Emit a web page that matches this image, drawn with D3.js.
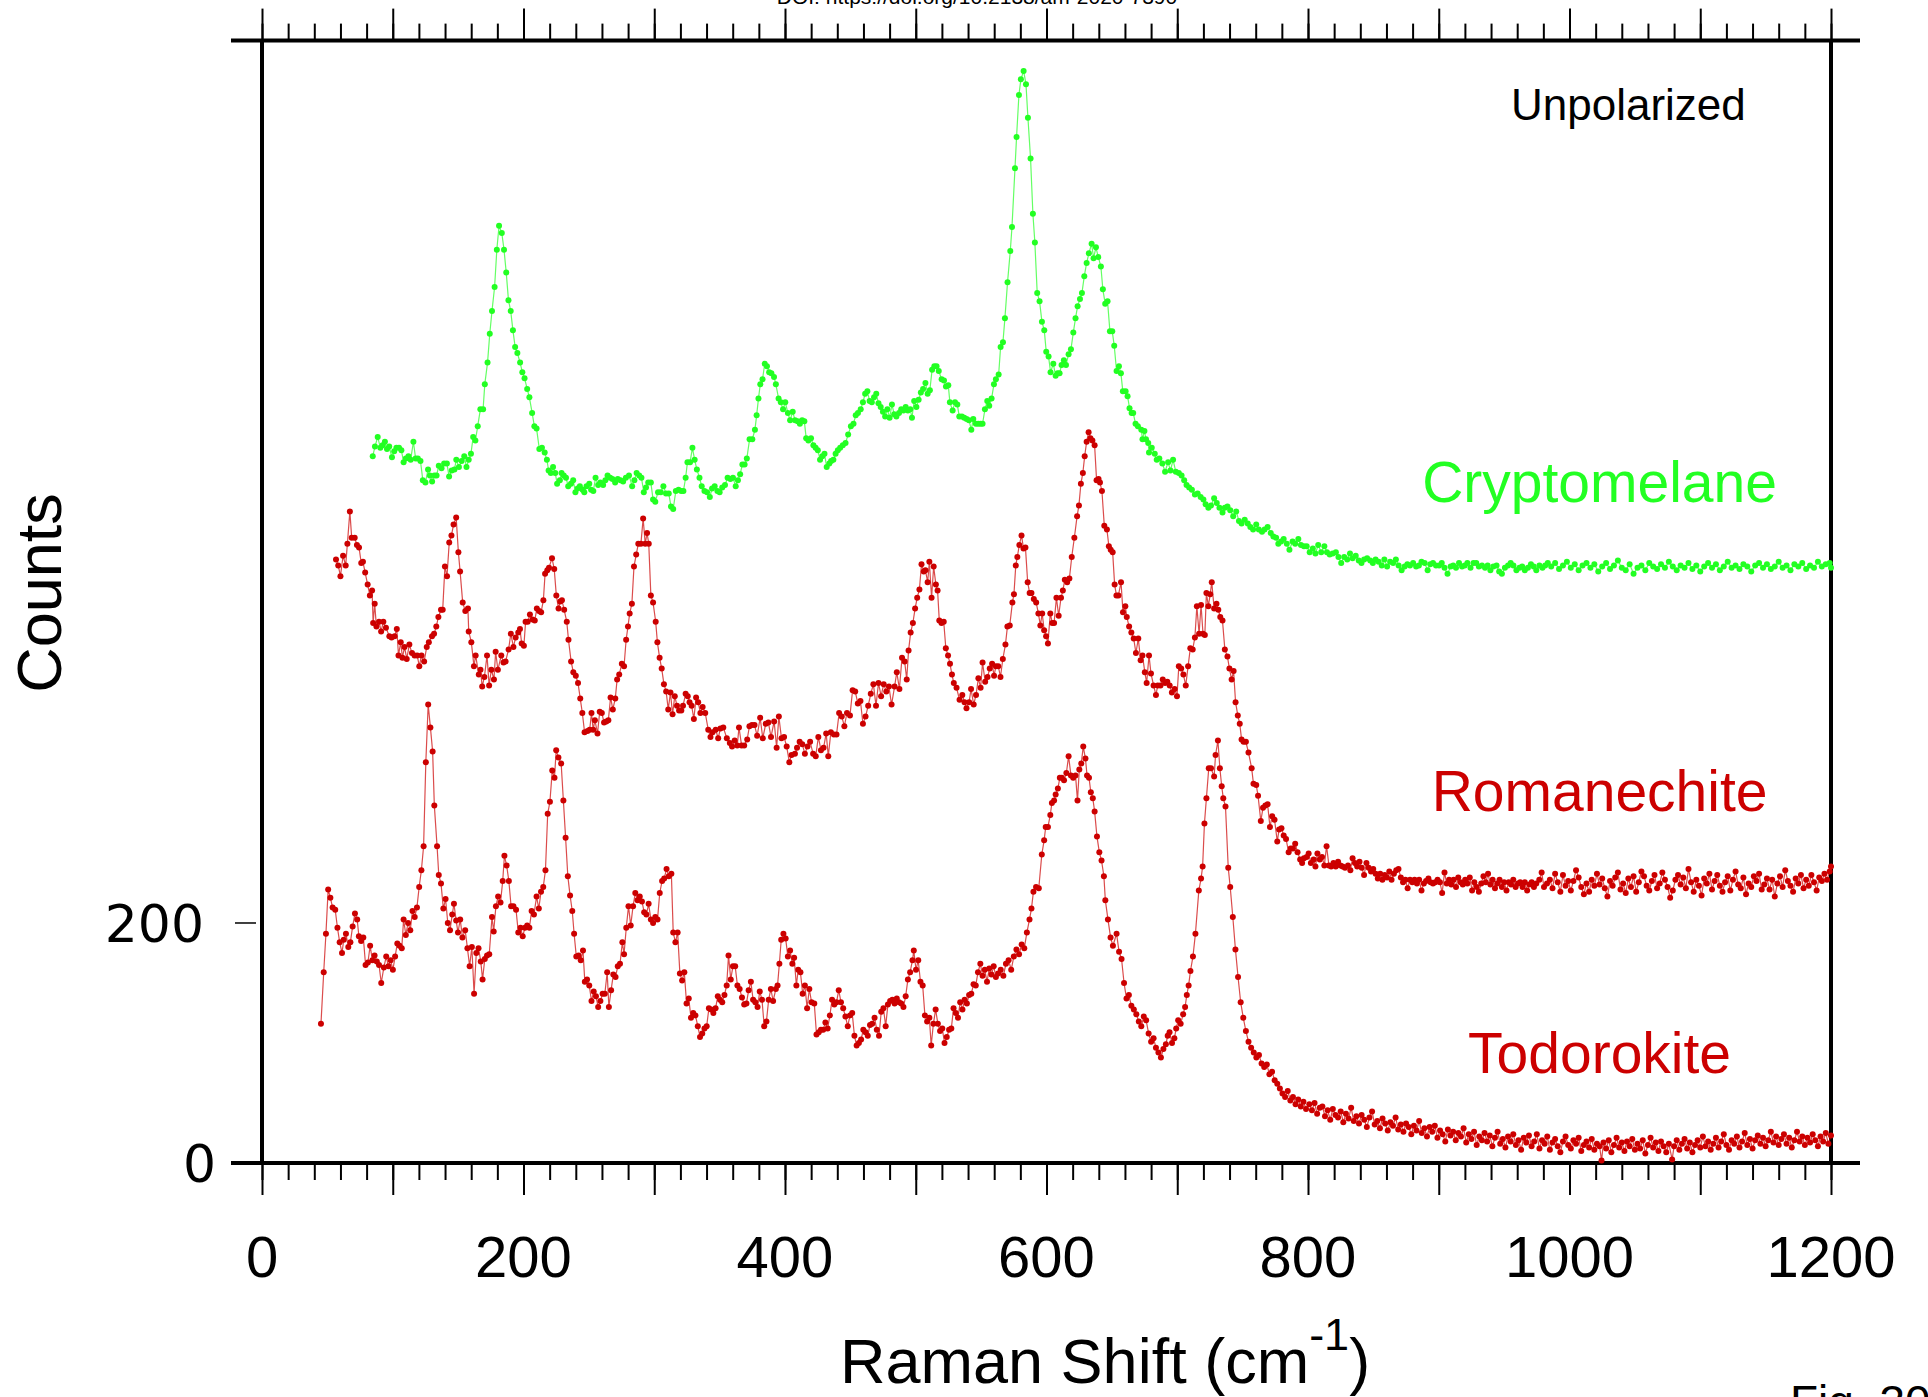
<!DOCTYPE html>
<html>
<head>
<meta charset="utf-8">
<script src="https://cdn.jsdelivr.net/npm/d3@7"></script>
<style>
  body { margin: 0; background: #fff; }
  .tick-lab { font-family: "Liberation Sans", Arial, sans-serif; font-size: 58px; fill: #000; }
  .ytick-lab { font-family: "DejaVu Sans", sans-serif; font-size: 52px; fill: #000; }
  .axis-title { font-family: "Liberation Sans", Arial, sans-serif; font-size: 63px; fill: #000; }
</style>
</head>
<body>
<div id="chart"></div>
<script>
//--------DATA (Raman shift cm-1, counts as plotted)-------------

var cryptomelane = [[84.7,589],[86.4,597],[88.5,605],[90.5,596],[92.2,598],[94.0,601],[95.6,595],[97.3,597],[99.4,588],[101.1,593],[102.8,596],[104.8,596],[106.6,594],[108.3,584],[110.0,587],[112.0,589],[113.7,586],[115.8,601],[117.5,587],[119.2,587],[121.2,585],[123.0,569],[125.0,567],[127.0,578],[128.4,573],[130.1,568],[131.8,573],[133.5,573],[135.2,581],[137.3,579],[139.3,583],[141.4,583],[143.1,572],[145.1,577],[147.2,578],[148.6,586],[150.6,580],[152.7,585],[154.7,589],[156.4,580],[158.1,586],[159.8,591],[161.5,605],[163.2,602],[165.0,614],[167.0,628],[169.1,628],[170.4,649],[172.5,667],[174.2,691],[175.9,710],[177.9,730],[179.6,761],[181.3,781],[183.4,775],[185.1,761],[186.8,742],[188.5,719],[190.2,710],[191.9,694],[193.6,680],[195.3,675],[197.4,667],[199.1,659],[200.8,654],[202.8,645],[204.5,638],[206.6,625],[208.3,614],[210.0,612],[212.1,595],[214.1,596],[216.2,592],[217.9,586],[219.2,577],[220.9,575],[222.6,580],[224.3,575],[225.7,566],[227.8,569],[229.1,575],[230.8,573],[232.5,571],[234.2,564],[236.3,566],[238.0,569],[239.7,559],[241.4,562],[243.1,564],[245.2,561],[246.5,559],[248.2,564],[250.3,566],[251.7,561],[253.4,560],[255.1,571],[257.1,565],[258.8,567],[260.9,565],[262.6,569],[264.3,573],[266.3,571],[268.0,570],[270.1,567],[272.1,570],[274.2,569],[276.2,568],[278.3,571],[280.7,573],[283.1,564],[284.8,569],[286.5,575],[288.5,573],[290.2,571],[292.0,559],[293.7,563],[295.4,567],[297.4,567],[299.1,553],[300.8,551],[302.9,559],[305.0,559],[307.0,564],[309.0,558],[311.1,558],[312.8,547],[314.5,545],[316.5,560],[318.6,561],[320.6,560],[322.3,560],[324.0,571],[325.4,584],[327.4,584],[329.2,596],[330.9,586],[332.6,578],[334.6,571],[336.3,564],[338.4,560],[340.4,559],[342.5,555],[344.2,562],[346.2,564],[348.3,560],[350.0,559],[352.0,563],[354.1,565],[356.1,571],[358.2,570],[360.2,571],[362.3,564],[364.0,569],[365.7,574],[367.4,582],[369.1,582],[370.8,587],[372.9,603],[375.0,603],[377.0,611],[378.3,623],[379.7,637],[381.1,649],[382.8,653],[384.5,666],[386.2,664],[387.9,659],[389.6,658],[391.6,655],[393.0,649],[395.1,637],[396.8,634],[398.5,628],[400.2,634],[402.2,625],[403.9,619],[405.9,626],[407.7,619],[409.7,618],[411.4,616],[413.1,619],[414.8,618],[416.2,604],[417.9,602],[419.9,604],[421.7,598],[423.4,596],[425.1,594],[426.8,586],[428.5,589],[430.2,591],[431.9,580],[433.9,583],[435.3,585],[437.0,586],[438.7,591],[440.4,594],[442.2,596],[444.2,598],[446.3,600],[448.3,607],[450.4,614],[452.4,616],[454.1,623],[455.8,625],[457.9,628],[459.6,634],[461.3,641],[463.0,643],[464.7,635],[466.4,634],[468.1,638],[469.8,641],[471.5,633],[473.2,630],[474.9,626],[476.6,622],[478.3,628],[480.0,621],[481.8,632],[483.5,624],[485.2,622],[487.2,625],[488.9,628],[490.6,627],[492.3,630],[494.0,627],[495.8,628],[497.1,621],[498.8,635],[500.5,630],[502.2,636],[503.9,642],[505.6,645],[507.4,650],[509.1,641],[510.8,644],[512.5,661],[514.2,664],[515.9,664],[517.6,660],[519.8,653],[521.6,652],[523.1,647],[524.9,648],[526.1,634],[528.2,627],[530.0,634],[531.8,632],[533.3,622],[535.3,622],[537.1,621],[538.9,620],[540.7,619],[542.5,611],[544.0,620],[546.0,616],[547.8,616],[549.6,616],[551.1,616],[552.9,628],[554.7,635],[556.2,631],[558.0,637],[559.8,649],[561.3,653],[563.4,657],[564.9,680],[566.7,684],[568.2,704],[570.2,734],[572.3,760],[573.6,780],[575.9,829],[577.1,855],[578.9,890],[580.4,903],[582.5,910],[584.3,899],[585.8,871],[587.8,837],[589.6,791],[591.1,767],[592.9,725],[594.7,718],[596.5,701],[598.3,694],[599.8,676],[601.6,672],[603.1,659],[605.2,666],[607.0,656],[608.5,658],[610.0,658],[611.5,665],[613.3,669],[614.9,665],[616.9,674],[618.7,678],[620.5,692],[622.2,704],[623.8,714],[625.6,720],[627.1,725],[628.9,739],[630.7,750],[632.4,758],[634.5,766],[636.0,754],[637.8,763],[639.6,755],[641.6,747],[643.1,728],[644.9,716],[646.7,718],[648.5,693],[650.3,693],[651.8,681],[653.6,660],[655.4,664],[656.9,658],[658.4,643],[660.5,643],[662.0,639],[663.5,629],[665.1,625],[666.3,625],[668.1,616],[669.9,614],[672.5,611],[673.4,603],[674.9,610],[676.1,603],[677.8,600],[678.4,592],[680.5,596],[682.8,591],[684.3,586],[686.3,587],[688.6,583],[690.7,576],[693.0,584],[694.8,577],[696.8,586],[698.9,576],[701.2,575],[703.3,573],[705.3,569],[707.1,565],[709.1,563],[711.2,561],[713.5,557],[715.6,558],[717.9,555],[720.0,553],[721.7,549],[723.8,546],[725.8,548],[728.2,554],[730.2,550],[732.3,546],[734.6,542],[736.4,546],[738.4,547],[740.5,544],[742.8,539],[745.1,543],[747.2,535],[749.2,533],[751.6,536],[753.9,533],[755.9,530],[758.0,528],[760.4,532],[762.4,528],[764.8,526],[766.8,528],[769.1,530],[771.5,525],[773.5,522],[775.6,521],[777.3,516],[779.4,518],[781.4,520],[783.8,516],[785.8,511],[788.2,518],[790.2,516],[792.6,520],[794.6,515],[796.9,514],[799.0,514],[801.3,509],[803.7,512],[805.7,508],[807.8,515],[810.1,509],[812.5,514],[814.5,509],[816.6,507],[818.9,508],[821.3,509],[823.3,505],[825.4,500],[827.7,505],[830.0,503],[832.1,508],[834.1,504],[836.5,506],[838.8,502],[840.9,500],[842.9,503],[845.2,504],[847.6,502],[849.6,500],[851.7,503],[854.0,501],[856.4,498],[858.4,503],[860.5,497],[862.8,501],[865.1,500],[867.2,503],[869.3,498],[871.6,494],[873.9,497],[876.0,499],[878.0,498],[880.4,500],[882.7,497],[884.8,498],[886.8,501],[889.2,500],[891.5,494],[893.5,499],[895.6,500],[897.9,498],[900.3,498],[902.3,500],[904.4,496],[906.7,491],[909.1,497],[911.1,498],[913.2,496],[915.5,500],[917.8,497],[919.9,498],[921.9,500],[924.3,496],[926.6,500],[928.7,500],[930.7,497],[933.1,498],[935.4,496],[937.4,498],[939.5,494],[941.8,497],[944.2,498],[946.2,493],[948.3,491],[950.6,496],[953.0,498],[955.0,500],[957.1,498],[959.4,494],[961.7,496],[963.8,497],[965.8,494],[968.2,496],[970.5,499],[972.6,497],[974.6,494],[977.0,498],[979.3,496],[981.4,498],[983.4,500],[986,497],[989,500],[992,495],[995,498],[998,501],[1001,496],[1004,499],[1007,494],[1010,498],[1013,500],[1016,496],[1019,499],[1022,493],[1025,497],[1028,500],[1031,495],[1034,498],[1037,502],[1040,496],[1043,494],[1046,499],[1049,491],[1052,496],[1055,498],[1058,494],[1061,500],[1064,497],[1067,495],[1070,499],[1073,496],[1076,501],[1079,497],[1082,494],[1085,498],[1088,496],[1091,500],[1094,495],[1097,498],[1100,493],[1103,497],[1106,500],[1109,496],[1112,499],[1115,494],[1118,497],[1121,501],[1124,496],[1127,498],[1130,495],[1133,499],[1136,497],[1139,493],[1142,498],[1145,500],[1148,496],[1151,499],[1154,495],[1157,497],[1160,501],[1163,496],[1166,498],[1169,494],[1172,499],[1175,497],[1178,500],[1181,495],[1184,498],[1187,496],[1190,501],[1193,497],[1196,499],[1199,500],[1200,496]];

var romanechite = [[56.6,503],[58.3,498],[60.0,489],[62.0,506],[64.0,498],[65.3,516],[67.2,543],[68.6,521],[70.9,521],[72.6,515],[74.2,513],[75.9,500],[77.2,501],[78.9,492],[80.8,482],[82.5,473],[84.2,477],[85.0,450],[86.2,466],[87.5,447],[89.5,451],[91.1,443],[92.8,451],[94.8,446],[97.4,439],[99.1,438],[101.4,439],[103.1,445],[104.4,423],[106.1,434],[107.4,421],[109.0,430],[110.7,420],[112.7,432],[114.7,425],[116.7,423],[118.7,423],[120.3,414],[122.0,423],[124.0,418],[126.0,430],[127.6,434],[130.0,439],[131.6,441],[133.3,447],[134.9,455],[136.9,461],[138.2,461],[139.9,497],[141.5,489],[143.2,517],[144.9,523],[146.5,532],[148.5,538],[150.2,509],[151.5,493],[153.5,467],[155.5,460],[157.5,462],[158.1,443],[160.1,434],[162.1,414],[163.4,423],[165.8,407],[167.1,411],[168.4,397],[170.1,405],[172.1,423],[173.7,398],[175.4,411],[177.4,403],[178.7,426],[180.4,411],[183.0,423],[184.7,417],[186.3,418],[188.6,428],[190.3,441],[192.3,430],[194.0,438],[196.0,442],[197.3,445],[198.6,433],[200.3,431],[201.6,451],[203.2,451],[204.9,457],[206.9,453],[208.6,452],[210.2,462],[211.9,460],[213.5,459],[215.2,469],[216.5,491],[218.2,494],[219.5,496],[221.8,504],[223.5,495],[225.1,473],[226.8,462],[228.1,468],[229.4,469],[231.1,461],[233.1,451],[234.4,436],[236.4,418],[238.1,409],[240.0,406],[241.7,400],[243.4,387],[245.0,375],[246.7,359],[249.0,360],[250.6,361],[252.0,375],[253.3,361],[254.6,369],[256.6,358],[258.3,376],[259.9,375],[261.6,367],[263.3,368],[264.9,369],[266.6,388],[268.3,378],[270.2,387],[271.6,403],[273.2,407],[275.2,416],[276.9,414],[278.5,436],[279.9,447],[281.2,458],[282.9,466],[284.5,497],[286.2,507],[287.8,516],[289.8,516],[291.5,537],[293.1,516],[294.5,525],[295.8,516],[297.4,473],[299.1,467],[301.1,451],[302.4,434],[304.1,421],[305.7,412],[307.4,399],[309.1,393],[310.7,378],[312.4,392],[314.0,374],[315.7,389],[317.4,381],[319.0,377],[320.7,377],[322.0,381],[324.0,391],[325.6,389],[327.0,384],[328.6,381],[330.3,370],[332.0,388],[333.6,384],[335.3,375],[337.0,380],[339.0,375],[341.3,361],[343.0,355],[344.6,359],[347.0,361],[348.9,354],[350.6,362],[352.8,363],[355.5,354],[357.8,350],[359.5,347],[361.5,352],[363.5,348],[364.8,363],[366.8,348],[368.8,348],[371.1,353],[372.8,364],[374.7,365],[376.7,365],[378.7,356],[381.0,371],[383.0,354],[385.3,366],[387.3,367],[389.3,355],[391.7,368],[393.6,346],[395.3,372],[397.3,354],[399.3,355],[401.3,347],[403.3,334],[405.0,340],[407.6,341],[409.2,346],[411.2,351],[413.2,349],[415.2,341],[417.2,347],[419.2,351],[421.5,341],[423.5,339],[425.5,355],[427.5,344],[429.5,346],[431.5,358],[433.1,339],[435.1,359],[437.4,357],[439.4,357],[441.4,375],[443.4,372],[445.4,364],[447.4,375],[449.7,373],[451.7,394],[453.7,393],[455.7,383],[457.7,385],[459.6,366],[461.6,372],[463.6,381],[465.6,391],[467.6,399],[469.6,381],[471.5,400],[473.5,389],[475.5,399],[477.5,393],[479.5,397],[481.5,382],[483.8,397],[485.5,409],[487.5,395],[489.5,421],[491.5,418],[493.1,403],[494.5,427],[496.1,442],[497.8,450],[499.5,462],[501.1,471],[502.8,478],[504.4,499],[506.1,493],[507.4,494],[509.1,484],[510.4,501],[512.1,471],[513.7,497],[515.4,482],[516.7,477],[518.0,452],[519.7,450],[521.4,451],[523.0,429],[524.7,423],[526.2,416],[527.7,407],[529.1,400],[531.2,396],[533.5,386],[535.6,390],[537.3,384],[538.8,379],[540.8,384],[542.3,395],[544.3,382],[546.1,390],[547.9,404],[549.6,396],[551.1,417],[553.1,401],[554.9,405],[556.6,412],[558.4,416],[559.9,406],[561.3,414],[563.1,414],[564.8,405],[566.6,420],[568.6,432],[570.1,447],[571.9,448],[573.9,467],[575.1,474],[576.5,498],[577.7,505],[579.2,515],[580.9,523],[582.4,512],[583.9,513],[585.6,484],[587.1,475],[588.5,475],[590.3,470],[592.1,467],[593.8,458],[595.3,448],[596.7,458],[598.2,444],[599.7,439],[601.1,433],[602.9,458],[604.4,450],[605.8,450],[607.6,471],[609.3,456],[611.1,471],[612.5,477],[614.0,486],[615.8,484],[617.5,487],[619.3,505],[621.3,521],[623.4,539],[624.8,548],[626.3,566],[627.8,575],[629.2,589],[630.7,601],[632.2,609],[633.6,604],[635.1,602],[636.8,598],[638.3,569],[639.8,570],[640.9,567],[642.4,560],[644.2,531],[646.2,528],[647.7,514],[649.1,511],[650.6,509],[652.1,482],[653.5,473],[655.0,473],[657.0,484],[658.5,459],[660.3,464],[661.4,455],[663.2,447],[664.9,442],[666.7,437],[668.4,425],[670.2,437],[672.0,419],[673.4,423],[675.2,409],[676.6,400],[678.4,423],[679.9,408],[681.9,398],[683.7,390],[685.1,398],[687.2,398],[688.9,403],[690.7,400],[692.4,401],[694.2,398],[695.9,392],[698.0,395],[699.8,389],[701.2,414],[703.0,412],[704.7,407],[706.5,398],[708.3,414],[710.0,429],[711.8,428],[713.5,438],[715.0,464],[716.7,441],[718.2,465],[719.7,441],[721.1,440],[722.3,475],[723.8,464],[725.2,474],[726.4,484],[728.2,462],[730.0,466],[731.4,461],[732.9,455],[734.6,452],[736.4,428],[738.4,422],[739.9,412],[741.6,403],[743.1,410],[744.6,384],[746.3,373],[747.8,366],[749.2,353],[750.7,351],[752.5,351],[754.5,342],[756.9,329],[758.3,316],[760.4,315],[761.8,306],[763.9,285],[765.6,296],[767.4,298],[769.1,299],[770.9,280],[772.6,289],[774.4,286],[776.5,268],[777.9,278],[779.7,279],[781.4,273],[783.2,270],[785.2,259],[786.7,262],[788.5,262],[790.2,266],[792.0,259],[794.0,253],[795.5,250],[796.9,254],[799.0,255],[800.5,258],[802.2,250],[804.3,253],[805.7,247],[807.2,258],[809.0,253],[810.7,255],[812.5,248],[814.2,264],[816.0,248],[817.7,247],[819.5,250],[821.2,247],[823.0,251],[824.8,248],[826.5,247],[828.3,246],[830.6,248],[832.4,244],[834.1,254],[835.9,250],[837.6,247],[839.4,251],[841.1,246],[842.9,240],[844.7,250],[846.4,246],[848.2,243],[849.9,245],[851.7,241],[853.4,237],[855.2,241],[856.9,236],[858.7,240],[860.4,238],[862.2,243],[863.9,236],[865.7,241],[867.5,244],[869.2,245],[871.0,238],[872.7,234],[874.5,236],[876.2,229],[878.0,236],[879.8,234],[881.5,236],[883.3,233],[885.0,236],[886.8,227],[888.6,233],[890.3,235],[892.1,237],[893.8,234],[895.6,233],[897.3,234],[899.1,236],[900.9,234],[902.6,225],[904.4,242],[906.1,233],[907.9,236],[909.6,232],[911.4,236],[913.2,230],[914.9,238],[916.7,234],[918.4,232],[920.2,236],[921.9,233],[923.7,238],[925.5,227],[927.2,234],[929.0,230],[930.7,226],[932.5,233],[934.2,239],[936.0,234],[937.7,241],[939.5,232],[941.2,236],[943.0,229],[944.8,233],[946.5,236],[948.3,230],[950.0,234],[951.8,227],[953.5,234],[955.3,232],[957.0,236],[958.8,230],[960.6,233],[962.3,234],[964.1,230],[965.8,234],[967.6,227],[969.3,232],[971.1,234],[972.8,230],[974.6,233],[976.9,236],[978.7,242],[980.5,230],[982.8,233],[985,236],[987,229],[989,241],[991,234],[993,226],[995,240],[997,231],[999,235],[1001,227],[1003,235],[1005,244],[1007,238],[1009,230],[1011,224],[1013,233],[1015,226],[1017,236],[1019,231],[1021,241],[1023,232],[1025,237],[1027,229],[1029,222],[1031,235],[1033,231],[1035,238],[1037,242],[1039,228],[1041,233],[1043,225],[1045,237],[1047,230],[1049,239],[1051,226],[1053,234],[1055,243],[1057,239],[1059,231],[1061,227],[1063,235],[1065,240],[1067,229],[1069,233],[1071,242],[1073,236],[1075,230],[1077,221],[1079,227],[1081,236],[1083,240],[1085,232],[1087,238],[1089,229],[1091,245],[1093,234],[1095,226],[1097,236],[1099,231],[1101,223],[1103,237],[1105,233],[1107,241],[1109,228],[1111,235],[1113,240],[1115,231],[1117,226],[1119,234],[1121,239],[1123,227],[1125,236],[1127,243],[1129,232],[1131,229],[1133,238],[1135,224],[1137,233],[1139,230],[1141,239],[1143,235],[1145,241],[1147,228],[1149,232],[1151,237],[1153,228],[1155,236],[1157,222],[1159,233],[1161,239],[1163,230],[1165,244],[1167,235],[1169,231],[1171,226],[1173,237],[1175,233],[1177,240],[1179,229],[1181,236],[1183,231],[1185,240],[1187,234],[1189,227],[1191,238],[1193,235],[1195,241],[1197,236],[1199,243],[1200,247]];

var todorokite = [[45.1,116],[47.2,159],[48.9,191],[50.6,228],[52.3,221],[54.0,213],[56.0,211],[57.7,196],[59.4,184],[61.2,175],[62.5,186],[64.2,191],[66.0,180],[67.6,184],[69.3,197],[71.1,208],[72.8,203],[74.1,189],[75.8,185],[77.5,188],[79.2,165],[81.0,167],[82.7,181],[84.4,169],[86.1,173],[87.8,168],[89.5,165],[91.2,150],[93.2,163],[95.0,172],[96.7,164],[98.4,169],[100.1,161],[101.8,172],[103.5,183],[105.2,181],[106.9,179],[108.3,203],[110.0,190],[111.7,200],[113.4,194],[115.1,210],[116.8,205],[118.5,213],[120.2,230],[121.9,244],[123.6,264],[125.3,334],[127.1,382],[128.8,363],[130.5,343],[131.8,298],[133.9,264],[135.2,240],[136.9,233],[138.7,212],[140.4,220],[142.1,200],[143.8,194],[145.5,207],[146.8,216],[148.5,202],[149.9,192],[151.6,203],[153.3,188],[155.4,194],[157.1,179],[158.8,164],[160.5,180],[162.2,141],[163.9,175],[165.6,179],[167.3,168],[168.7,153],[170.4,170],[172.1,173],[173.8,174],[175.9,205],[177.2,193],[178.9,214],[180.6,222],[182.4,217],[184.1,235],[185.4,256],[187.1,248],[188.8,235],[190.5,214],[192.3,214],[194.3,211],[196.0,192],[197.7,196],[199.4,189],[201.1,196],[202.8,198],[204.5,196],[206.2,210],[208.0,207],[210.0,222],[211.7,212],[213.4,226],[215.1,230],[216.8,244],[218.5,291],[220.2,301],[222.0,327],[223.7,321],[225.0,344],[226.7,338],[228.8,333],[230.5,302],[232.2,271],[233.9,239],[235.6,223],[237.3,210],[238.7,191],[240.4,172],[242.1,173],[243.8,169],[245.5,177],[246.9,151],[248.6,153],[250.3,148],[252.0,135],[253.7,143],[255.4,139],[257.1,130],[258.8,135],[260.5,141],[262.2,141],[264.0,159],[265.3,130],[267.0,144],[268.7,157],[270.4,155],[272.1,164],[273.8,166],[275.6,184],[276.9,174],[278.6,196],[280.3,214],[282.0,198],[283.8,214],[285.5,225],[287.2,219],[288.9,222],[290.6,218],[292.3,209],[294.0,207],[295.7,216],[297.4,203],[299.1,200],[300.8,205],[302.5,203],[304.2,225],[306.0,235],[307.6,237],[309.4,245],[311.1,239],[313.1,241],[314.5,192],[316.2,184],[317.9,192],[319.6,158],[321.3,152],[323.0,159],[324.7,133],[326.4,137],[328.1,121],[329.8,125],[331.5,123],[333.3,114],[335.0,105],[336.7,108],[338.4,112],[340.1,114],[341.8,129],[343.5,128],[345.2,125],[346.9,129],[348.6,139],[350.3,136],[352.0,134],[353.7,140],[355.4,148],[356.8,173],[358.5,153],[360.2,164],[361.9,164],[363.6,148],[365.3,145],[367.1,138],[368.8,132],[370.5,133],[372.2,144],[373.9,151],[375.6,136],[377.3,134],[379.0,130],[380.7,143],[382.4,136],[384.1,114],[385.8,118],[387.5,136],[389.2,145],[390.9,135],[393.0,145],[394.3,148],[395.7,166],[397.1,186],[398.8,191],[400.5,187],[402.2,172],[403.9,177],[405.6,166],[407.0,171],[408.7,148],[410.1,161],[411.8,159],[413.5,141],[415.2,148],[416.9,129],[418.6,145],[420.3,134],[422.4,133],[424.1,107],[425.8,109],[427.5,111],[429.2,111],[430.9,117],[432.6,112],[434.3,123],[436.0,136],[437.7,132],[439.4,134],[441.1,144],[442.8,134],[444.5,129],[446.2,122],[448.0,114],[449.7,123],[451.4,125],[453.1,106],[454.8,98],[456.5,100],[458.2,103],[459.9,111],[461.6,109],[463.3,106],[465.0,115],[466.7,116],[468.5,121],[470.2,111],[471.9,106],[473.6,126],[475.3,129],[477.0,114],[478.7,132],[480.4,135],[482.1,136],[483.8,133],[485.5,137],[487.2,134],[488.9,133],[490.6,130],[492.3,139],[494.0,153],[495.7,159],[497.5,169],[498.5,177],[500.2,161],[501.9,169],[503.6,151],[505.3,148],[507.0,123],[508.7,118],[510.4,121],[511.8,98],[513.5,116],[515.2,128],[516.9,116],[518.6,110],[520.3,112],[522.0,100],[523.7,105],[525.5,111],[527.2,112],[528.9,129],[530.6,125],[532.3,121],[534.0,134],[535.7,128],[537.4,136],[539.1,133],[540.8,140],[542.5,141],[544.2,149],[545.9,148],[547.6,159],[549.4,166],[551.1,156],[552.8,161],[554.5,151],[556.2,162],[557.9,157],[559.6,164],[561.3,155],[563.0,158],[565.0,161],[567.0,156],[569.0,166],[571.0,169],[573.0,161],[575.0,172],[577.0,178],[579.0,174],[581.0,182],[583.0,179],[585.0,192],[587.0,203],[588.5,212],[590.0,226],[592.0,230],[594.1,229],[596.4,257],[598.2,269],[599.4,280],[601.1,280],[602.9,290],[604.1,300],[605.8,302],[607.0,307],[608.7,312],[610.2,321],[611.7,321],[613.4,319],[615.2,325],[616.9,339],[618.7,323],[620.4,321],[622.2,323],[623.7,302],[625.1,328],[626.6,333],[628.1,347],[629.8,337],[631.0,323],[632.5,321],[633.9,309],[635.4,304],[636.8,293],[638.6,272],[640.4,259],[642.1,252],[643.9,239],[645.0,219],[647.0,203],[649.0,188],[650.8,181],[653.6,191],[655.5,176],[657.4,170],[659.3,150],[661.2,137],[663.0,140],[664.9,131],[666.8,128],[668.7,124],[670.6,118],[672.5,114],[674.4,122],[676.2,119],[678.1,108],[680.0,101],[681.9,104],[683.7,96],[685.6,92],[687.5,88],[689.4,95],[691.3,99],[692.7,106],[694.1,109],[696.0,100],[697.8,104],[699.2,112],[700.7,119],[702.6,116],[704.5,124],[706.0,130],[707.3,140],[708.7,148],[710.1,160],[712.0,172],[713.9,191],[716.5,227],[718.2,237],[719.4,247],[720.8,283],[722.3,304],[724.1,329],[725.8,329],[728.2,322],[729.3,340],[731.1,352],[732.6,329],[734.0,314],[735.2,304],[736.9,297],[739.0,246],[740.5,230],[742.5,205],[744.5,178],[746.5,155],[748.5,134],[750.5,121],[752.5,110],[754.5,101],[756.5,96],[758.5,92],[760.5,88],[762.5,90],[764.5,83],[766.5,80],[768.5,82],[770.5,74],[772.5,76],[774.5,69],[776.5,66],[778.5,62],[780.5,58],[782.5,55],[784.5,60],[786.5,52],[788.5,55],[790.5,49],[792.5,53],[794.5,47],[796.5,51],[798.5,45],[801,49],[803,44],[805,50],[807,41],[809,46],[811,47],[813,39],[815,44],[817,36],[819,45],[821,40],[823,38],[825,43],[827,34],[829,41],[831,37],[833,46],[835,35],[837,39],[839,33],[841,40],[843,36],[845,30],[847,38],[849,43],[851,32],[853,35],[855,29],[857,37],[859,33],[861,27],[863,34],[865,31],[867,38],[869,28],[871,32],[873,26],[875,33],[877,30],[879,24],[881,31],[883,27],[885,35],[887,25],[889,29],[891,22],[893,30],[895,26],[897,31],[899,21],[901,27],[903,24],[905,18],[907,28],[909,23],[911,26],[913,19],[915,25],[917,22],[919,29],[921,17],[923,24],[925,20],[927,26],[929,15],[931,22],[933,19],[935,25],[937,18],[939,23],[941,14],[943,21],[945,26],[947,16],[949,20],[951,13],[953,22],[955,18],[957,24],[959,15],[961,19],[963,11],[965,21],[967,17],[969,23],[971,14],[973,18],[975,24],[977,12],[979,19],[981,16],[983,22],[985,11],[987,17],[989,20],[991,14],[993,9],[995,18],[997,22],[999,15],[1001,12],[1003,19],[1005,16],[1007,21],[1009,10],[1011,15],[1013,18],[1015,13],[1017,20],[1019,11],[1021,16],[1023,14],[1024.5,2],[1026,17],[1028,12],[1030,19],[1032,9],[1034,15],[1036,21],[1038,13],[1040,17],[1042,10],[1044,18],[1046,14],[1048,20],[1050,11],[1052,16],[1054,12],[1056,19],[1058,8],[1060,15],[1062,21],[1064,13],[1066,17],[1068,10],[1070,18],[1072,14],[1074,9],[1076,16],[1078.5,3],[1080,14],[1082,19],[1084,11],[1086,16],[1088,20],[1090,12],[1092,17],[1094,9],[1096,15],[1098,19],[1100,13],[1102,22],[1104,14],[1106,18],[1108,11],[1110,16],[1112,21],[1114,13],[1116,18],[1118,24],[1120,15],[1122,11],[1124,19],[1126,16],[1128,22],[1130,13],[1132,18],[1134,25],[1136,15],[1138,20],[1140,12],[1142,19],[1144,23],[1146,16],[1148,21],[1150,14],[1152,19],[1154,26],[1156,17],[1158,22],[1160,15],[1162,20],[1164,24],[1166,16],[1168,21],[1170,13],[1172,19],[1174,26],[1176,18],[1178,22],[1180,15],[1182,21],[1184,17],[1186,24],[1188,19],[1190,14],[1192,22],[1194,18],[1196,25],[1198,16],[1200,23]];

var seriesNames = ["Cryptomelane", "Romanechite", "Todorokite"];
var xTickLabels = [0, 200, 400, 600, 800, 1000, 1200];
var yTickLabels = [0, 200];

//--------CHART SETUP-------------

var svgWidth = 1928;
var svgHeight = 1397;
var margin = { top: 40.6, right: 97, bottom: 234, left: 262 };
var plotWidth = svgWidth - margin.left - margin.right;
var plotHeight = svgHeight - margin.top - margin.bottom;

var colors = { Cryptomelane: "#22ff22", Romanechite: "#cc0000", Todorokite: "#cc0000" };

var svg = d3.select("#chart")
  .append("svg")
  .attr("width", svgWidth)
  .attr("height", svgHeight)
  .style("display", "block");

svg.append("rect").attr("width", svgWidth).attr("height", svgHeight).attr("fill", "#fff");

var chartGroup = svg.append("g")
  .attr("transform", `translate(${margin.left}, ${margin.top})`);

var xScale = d3.scaleLinear().domain([0, 1200]).range([0, plotWidth]);
var yScale = d3.scaleLinear().domain([0, 935.3]).range([plotHeight, 0]);

// minor + major ticks, bottom and top
function tickAxis(axisFn, step, size, yPos) {
  var g = chartGroup.append("g")
    .attr("transform", `translate(0, ${yPos})`)
    .call(axisFn(xScale).tickValues(d3.range(0, 1201, step)).tickSize(size).tickFormat(""));
  g.select(".domain").remove();
  g.selectAll("line").attr("stroke", "#000").attr("stroke-width", 2);
  return g;
}
tickAxis(d3.axisBottom, 20, 17, plotHeight);
tickAxis(d3.axisBottom, 100, 32, plotHeight);
tickAxis(d3.axisTop, 20, 17, 0);
tickAxis(d3.axisTop, 100, 32, 0);

// x-axis lines run past the frame on both sides
[0, plotHeight].forEach(function(yy) {
  chartGroup.append("line")
    .attr("x1", -31).attr("x2", plotWidth + 29)
    .attr("y1", yy).attr("y2", yy)
    .attr("stroke", "#000").attr("stroke-width", 4);
});

// left / right frame
[0, plotWidth].forEach(function(xx) {
  chartGroup.append("line")
    .attr("x1", xx).attr("x2", xx)
    .attr("y1", 0).attr("y2", plotHeight)
    .attr("stroke", "#000").attr("stroke-width", 4);
});

// x tick labels
chartGroup.selectAll(".xlab")
  .data(xTickLabels)
  .enter()
  .append("text")
  .attr("class", "tick-lab")
  .attr("x", d => xScale(d))
  .attr("y", plotHeight + 114)
  .attr("text-anchor", "middle")
  .text(d => d);

// y ticks / labels (only 0 and 200 shown)
chartGroup.selectAll(".ytk")
  .data(yTickLabels.filter(d => d > 0))
  .enter()
  .append("line")
  .attr("x1", -27).attr("x2", -6)
  .attr("y1", d => yScale(d)).attr("y2", d => yScale(d))
  .attr("stroke", "#000").attr("stroke-width", 1.5);

chartGroup.selectAll(".ylab")
  .data(yTickLabels)
  .enter()
  .append("text")
  .attr("class", "ytick-lab")
  .attr("x", d => d === 0 ? -46 : -58)
  .attr("y", d => yScale(d))
  .attr("dy", "0.36em")
  .attr("text-anchor", "end")
  .text(d => d);

//--------SPECTRA-------------

var lineGen = d3.line()
  .x(d => xScale(d[0]))
  .y(d => yScale(d[1]));

[cryptomelane, romanechite, todorokite].forEach(function(series, i) {
  var col = colors[seriesNames[i]];
  chartGroup.append("path")
    .datum(series)
    .attr("d", lineGen)
    .attr("fill", "none")
    .attr("stroke", col)
    .attr("stroke-opacity", 0.7)
    .attr("stroke-width", 1.2);
  chartGroup.append("g")
    .selectAll("circle")
    .data(series)
    .enter()
    .append("circle")
    .attr("cx", d => xScale(d[0]))
    .attr("cy", d => yScale(d[1]))
    .attr("r", 3)
    .attr("fill", col);
});

// series labels
var labelSpots = [[1023, 551], [1023, 293], [1023, 75]];
seriesNames.forEach(function(name, i) {
  chartGroup.append("text")
    .attr("x", xScale(labelSpots[i][0]))
    .attr("y", yScale(labelSpots[i][1]))
    .attr("text-anchor", "middle")
    .attr("font-family", "Liberation Sans, Arial, sans-serif")
    .attr("font-size", 57)
    .attr("fill", colors[name])
    .text(name);
});

chartGroup.append("text")
  .attr("x", 1249)
  .attr("y", 79)
  .attr("font-family", "Liberation Sans, Arial, sans-serif")
  .attr("font-size", 44)
  .attr("fill", "#000")
  .text("Unpolarized");

//--------AXIS TITLES & PAGE TEXT-------------

var xTitle = svg.append("text")
  .attr("class", "axis-title")
  .attr("x", 840)
  .attr("y", 1383);
xTitle.append("tspan").text("Raman Shift (cm");
xTitle.append("tspan").attr("font-size", 45).attr("dy", -33).text("-1");
xTitle.append("tspan").attr("dy", 33).text(")");

svg.append("text")
  .attr("class", "axis-title")
  .attr("transform", "translate(61, 593) rotate(-90)")
  .attr("text-anchor", "middle")
  .text("Counts");

svg.append("text")
  .attr("x", 977).attr("y", 4)
  .attr("text-anchor", "middle")
  .attr("font-family", "Liberation Sans, Arial, sans-serif")
  .attr("font-size", 21)
  .text("DOI: https://doi.org/10.2138/am-2020-7390");

svg.append("text")
  .attr("x", 1790).attr("y", 1418)
  .attr("font-family", "Liberation Sans, Arial, sans-serif")
  .attr("font-size", 46)
  .text("Fig. 30");
</script>
</body>
</html>
